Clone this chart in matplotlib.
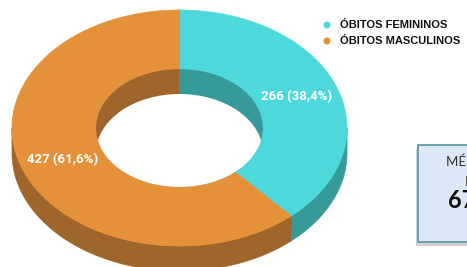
import numpy as np
import matplotlib
matplotlib.use("Agg")
import matplotlib.pyplot as plt
from matplotlib.patches import Polygon, Rectangle, Ellipse

# ---- data ----
categories = ["ÓBITOS FEMININOS", "ÓBITOS MASCULINOS"]
values = [266, 427]
face_colors = ["#4DD9DB", "#E5913A"]
side_colors = ["#379A9A", "#A0652A"]
box_lines = ["MÉDIA DE", "IDADE", "67 ANOS"]

W, H = 467, 267
fig = plt.figure(figsize=(W / 100, H / 100), dpi=100)
ax = fig.add_axes([0, 0, 1, 1])
ax.set_xlim(0, W)
ax.set_ylim(H, 0)
ax.axis("off")

# geometry of 3D donut (pixel units)
cx, cy = 179.5, 128.0
A_out, B_out = 167.5, 118.0
A_in, B_in = 83.5, 59.0
depth = 25.0

def pt(t, a, b, dy=0.0):
    t = np.radians(t)
    return np.column_stack([cx + a * np.cos(t), cy - b * np.sin(t) + dy])

def arc(t1, t2, a, b, dy=0.0, n=200):
    return pt(np.linspace(t1, t2, n), a, b, dy)

total = sum(values)
start = 90.0
slices = []
for v in values:
    span = 360.0 * v / total
    slices.append((start - span, start))  # clockwise from top
    start -= span

# outer side walls (front half)
for (tl, th), sc in zip(slices, side_colors):
    for k in (-360, 0, 360):
        lo = max(tl, -180 + k)
        hi = min(th, 0 + k)
        if hi > lo:
            top = arc(lo, hi, A_out, B_out)
            bot = arc(hi, lo, A_out, B_out, depth)
            ax.add_patch(Polygon(np.vstack([top, bot]), closed=True, fc=sc, ec=sc, lw=0.5, zorder=1))

# top faces
for (tl, th), fc in zip(slices, face_colors):
    outer = arc(tl, th, A_out, B_out)
    inner = arc(th, tl, A_in, B_in)
    ax.add_patch(Polygon(np.vstack([outer, inner]), closed=True, fc=fc, ec=fc, lw=0.5, zorder=2))

# inner hole: far wall then through-hole
hole_path = Ellipse((cx, cy), 2 * A_in, 2 * B_in, fc="none", ec="none")
ax.add_patch(hole_path)
for (tl, th), sc in zip(slices, side_colors):
    sector = np.vstack([[cx, cy], arc(tl, th, A_in * 1.01, B_in * 1.01)])
    p = Polygon(sector, closed=True, fc=sc, ec=sc, lw=0.3, zorder=3)
    ax.add_patch(p)
    p.set_clip_path(hole_path)
white = Ellipse((cx, cy + depth), 2 * A_in, 2 * B_in, fc="white", ec="none", zorder=4)
ax.add_patch(white)
white.set_clip_path(hole_path)

# labels
A_mid, B_mid = (A_out + A_in) / 2, (B_out + B_in) / 2
for (tl, th), v in zip(slices, values):
    tm = (tl + th) / 2
    x, y = pt(tm, A_mid, B_mid)[0]
    pct = f"{100 * v / total:.1f}".replace(".", ",")
    ax.text(x, y, f"{v} ({pct}%)", color="white", fontsize=9.5, fontweight="bold",
            family="Roboto", ha="center", va="center", zorder=6)

# legend
for i, (cat, fc) in enumerate(zip(categories, face_colors)):
    ly = 25 + 16 * i
    ax.add_patch(Ellipse((327, ly), 7, 7, fc=fc, ec="none", zorder=6))
    ax.text(340.5, ly, cat, fontsize=8, fontweight="bold", family="Liberation Sans",
            color="#111111", ha="left", va="center", zorder=6)

# info box (partly outside the figure)
bx, by, bw, bh = 418, 145, 110, 97
ax.add_patch(Rectangle((bx - 2.5, by + 3.5), bw, bh, fc="#00000030", ec="none", zorder=5))
ax.add_patch(Rectangle((bx, by), bw, bh, fc="#DCE8F5", ec="#5E9CA8", lw=1.3, zorder=6))
ax.text(446.5, 162, box_lines[0], fontsize=9.5, family="Lato", color="#333333",
        ha="left", va="center", zorder=7)
ax.text(464.5, 182, box_lines[1], fontsize=9.5, family="Lato", color="#333333",
        ha="left", va="center", zorder=7)
ax.text(448, 200, box_lines[2], fontsize=17, family="Lato", fontweight="bold",
        color="#111111", ha="left", va="center", zorder=7)

fig.savefig("out.png", dpi=100)
